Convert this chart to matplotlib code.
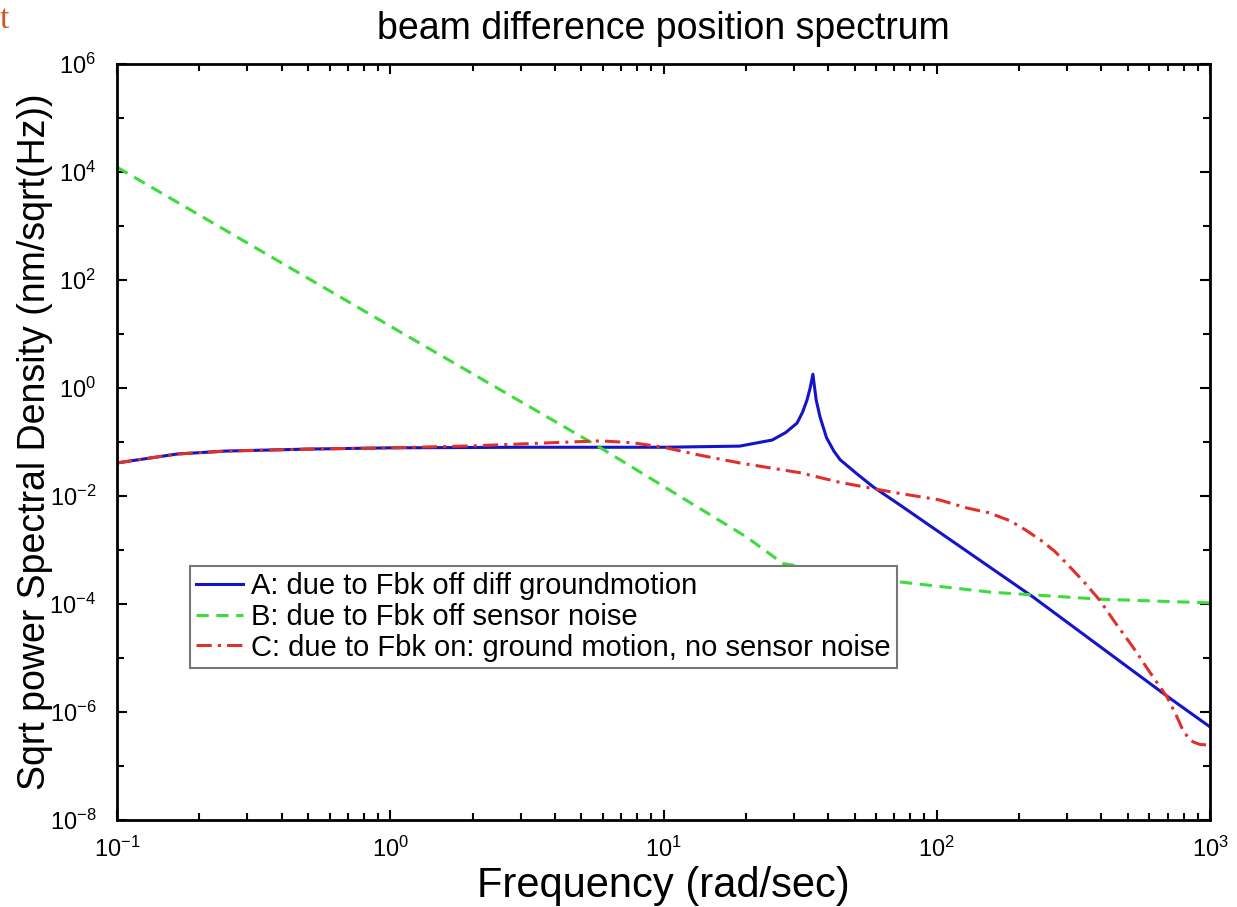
import numpy as np
import matplotlib
matplotlib.use("Agg")
import matplotlib.pyplot as plt
from matplotlib.ticker import FixedLocator, LogLocator, NullFormatter, LogFormatterSciNotation

plt.rcParams['font.family'] = ['Liberation Sans', 'DejaVu Sans']
plt.rcParams['mathtext.fontset'] = 'custom'
plt.rcParams['mathtext.rm'] = 'Liberation Sans'
plt.rcParams['mathtext.it'] = 'Liberation Sans:italic'

# values (rad/sec, nm/sqrt(Hz))
a_freq = [0.1, 0.166, 0.25, 0.5, 1, 3, 10, 19, 25, 28, 30.8, 32.3, 33.5, 34.4,
          35.2, 36.2, 37.4, 39.5, 42, 44.3, 50.9, 58.5, 73.4, 102, 225, 713, 1000]
a_psd = [0.041, 0.060, 0.068, 0.074, 0.078, 0.080, 0.080, 0.084, 0.109, 0.15,
         0.224, 0.36, 0.6, 1.0, 1.8, 0.6, 0.29, 0.12, 0.068, 0.047, 0.026,
         0.0148, 0.0068, 0.00215, 1.35e-4, 1.8e-6, 5.3e-7]

b_freq = [0.1, 1, 5.86, 10, 20, 27.4, 71.6, 157, 395, 1000]
b_psd = [1.23e4, 14, 0.079, 0.0151, 1.78e-3, 5.6e-4, 2.6e-4, 1.66e-4, 1.23e-4, 1.05e-4]

c_freq = [0.1, 0.166, 0.25, 0.5, 1, 2, 3, 4.5, 5.9, 7.7, 10, 13.6, 19, 31.6, 44,
          62, 73, 102, 129, 155, 185, 210, 239, 270, 299, 345, 395, 450, 522,
          600, 696, 750, 794, 830, 867, 920, 1000]
c_psd = [0.041, 0.060, 0.068, 0.074, 0.078, 0.085, 0.092, 0.1, 0.105, 0.097,
         0.08, 0.057, 0.041, 0.027, 0.018, 0.013, 0.0112, 0.0085, 0.006, 0.0049,
         0.0035, 0.0024, 0.00155, 9.5e-4, 5.6e-4, 2.6e-4, 1.17e-4, 4.5e-5, 1.6e-5,
         5.6e-6, 1.9e-6, 9e-7, 4.7e-7, 3.4e-7, 2.8e-7, 2.5e-7, 2.45e-7]

labels = ["A: due to Fbk off diff groundmotion",
          "B: due to Fbk off sensor noise",
          "C: due to Fbk on: ground motion, no sensor noise"]

fig = plt.figure(figsize=(12.37, 9.07), dpi=100)
ax = fig.add_axes([0.0946, 0.0959, 0.8836, 0.8335])

ax.loglog(a_freq, a_psd, color='#1414c8', lw=2.2, label=labels[0])
ax.loglog(b_freq, b_psd, color='#3cdc3c', lw=2.2, ls=(0, (4, 2.5)), label=labels[1])
ax.loglog(c_freq, c_psd, color='#e0302a', lw=2.2, ls=(0, (5, 2, 1, 2)), label=labels[2])

ax.set_xlim(0.1, 1000)
ax.set_ylim(1e-8, 1e6)

ax.yaxis.set_major_locator(FixedLocator([10.0**k for k in range(-8, 7, 2)]))
ax.yaxis.set_minor_locator(FixedLocator([10.0**k for k in range(-7, 6, 2)]))
ax.yaxis.set_major_formatter(LogFormatterSciNotation())
ax.yaxis.set_minor_formatter(NullFormatter())
ax.xaxis.set_major_locator(LogLocator(base=10))
ax.xaxis.set_minor_locator(LogLocator(base=10, subs=np.arange(2, 10)))
ax.xaxis.set_minor_formatter(NullFormatter())

ax.tick_params(which='both', direction='in', top=True, right=True, width=1.5,
               labelsize=17, colors='black')
ax.tick_params(which='major', length=7)
ax.tick_params(which='minor', length=5)
ax.tick_params(axis='x', which='major', pad=12)
ax.tick_params(axis='y', which='major', pad=15)
for s in ax.spines.values():
    s.set_linewidth(2)

ax.set_title("beam difference position spectrum", fontsize=27, pad=18)
ax.set_xlabel("Frequency (rad/sec)", fontsize=30, labelpad=3)
ax.set_ylabel("Sqrt power Spectral Density (nm/sqrt(Hz))", fontsize=27, labelpad=-3)

leg = ax.legend(loc='upper left', bbox_to_anchor=(0.0668, 0.336), borderaxespad=0,
                fontsize=21, fancybox=False, framealpha=1, edgecolor='#777777',
                handlelength=1.6, handletextpad=0.3, labelspacing=0.1,
                borderpad=0.2)
leg.get_frame().set_linewidth(1.5)

fig.text(0.0, 0.978, "t", color='#d2541e', fontsize=24, family='Liberation Serif',
         va='center', ha='left')

fig.savefig("out.png", dpi=100)
